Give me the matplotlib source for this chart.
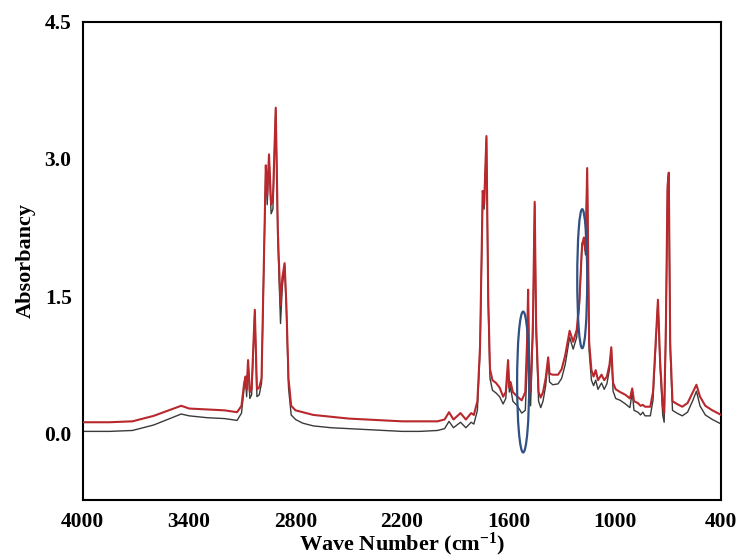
import matplotlib
matplotlib.use("Agg")
import matplotlib.pyplot as plt
from matplotlib.patches import Ellipse

plt.rcParams['font.family'] = ['Liberation Serif', 'DejaVu Serif']
plt.rcParams['font.weight'] = 'bold'
plt.rcParams['mathtext.fontset'] = 'custom'
plt.rcParams['mathtext.rm'] = 'Liberation Serif:bold'
plt.rcParams['mathtext.it'] = 'Liberation Serif:bold'
plt.rcParams['mathtext.bf'] = 'Liberation Serif:bold'

# Wavenumbers (cm-1) and absorbance of the two spectra
wavenumber = [4000, 3850, 3720, 3600, 3445, 3400, 3300, 3200, 3130, 3105,
              3090, 3082, 3076, 3068, 3058, 3048, 3030, 3018, 3005, 2992,
              2968, 2960, 2950, 2938, 2928, 2912, 2900, 2885, 2875, 2862,
              2852, 2840, 2825, 2800, 2760, 2700, 2600, 2500, 2400, 2300,
              2200, 2100, 2000, 1960, 1935, 1910, 1870, 1840, 1810, 1795,
              1775, 1760, 1745, 1737, 1724, 1714, 1704, 1690, 1670, 1650,
              1630, 1615, 1602, 1595, 1588, 1575, 1550, 1525, 1505, 1495,
              1489, 1482, 1475, 1462, 1452, 1444, 1430, 1418, 1405, 1390,
              1376, 1368, 1350, 1320, 1300, 1280, 1255, 1235, 1215, 1200,
              1185, 1175, 1165, 1156, 1145, 1132, 1120, 1108, 1095, 1075,
              1060, 1045, 1030, 1020, 1010, 995, 970, 940, 915, 902,
              892, 870, 855, 842, 830, 800, 785, 770, 757, 745,
              730, 722, 712, 703, 696, 688, 675, 650, 620, 590,
              560, 540, 520, 490, 450, 400]

red = [0.12, 0.12, 0.13, 0.19, 0.30, 0.27, 0.26, 0.25, 0.23, 0.30,
       0.55, 0.62, 0.48, 0.80, 0.45, 0.48, 1.35, 0.48, 0.50, 0.60,
       2.93, 2.60, 3.05, 2.50, 2.55, 3.56, 2.20, 1.40, 1.70, 1.86,
       1.40, 0.60, 0.30, 0.25, 0.23, 0.20, 0.18, 0.16, 0.15, 0.14,
       0.13, 0.13, 0.13, 0.15, 0.23, 0.15, 0.22, 0.15, 0.22, 0.20,
       0.35, 0.95, 2.65, 2.50, 3.25, 1.50, 0.70, 0.58, 0.55, 0.50,
       0.40, 0.45, 0.80, 0.50, 0.56, 0.45, 0.40, 0.36, 0.45, 1.00,
       1.57, 0.60, 0.45, 1.20, 2.53, 1.20, 0.45, 0.39, 0.45, 0.60,
       0.83, 0.65, 0.64, 0.64, 0.70, 0.85, 1.12, 1.00, 1.13, 1.45,
       2.05, 2.14, 2.00, 2.90, 1.00, 0.69, 0.62, 0.69, 0.58, 0.64,
       0.58, 0.62, 0.75, 0.94, 0.55, 0.48, 0.45, 0.42, 0.38, 0.49,
       0.35, 0.33, 0.30, 0.31, 0.29, 0.29, 0.45, 1.00, 1.46, 0.80,
       0.30, 0.22, 1.20, 2.70, 2.85, 1.00, 0.35, 0.32, 0.29, 0.33,
       0.45, 0.53, 0.40, 0.30, 0.25, 0.20]

black = [0.02, 0.02, 0.03, 0.09, 0.21, 0.19, 0.17, 0.16, 0.14, 0.22,
         0.50, 0.58, 0.40, 0.78, 0.38, 0.42, 1.33, 0.40, 0.42, 0.55,
         2.90, 2.50, 3.02, 2.40, 2.45, 3.55, 2.10, 1.20, 1.60, 1.84,
         1.35, 0.50, 0.20, 0.15, 0.11, 0.08, 0.06, 0.05, 0.04, 0.03,
         0.02, 0.02, 0.03, 0.05, 0.13, 0.06, 0.12, 0.06, 0.12, 0.10,
         0.25, 0.90, 2.62, 2.45, 3.23, 1.40, 0.60, 0.47, 0.44, 0.40,
         0.32, 0.38, 0.76, 0.45, 0.50, 0.35, 0.30, 0.22, 0.25, 0.70,
         1.50, 0.45, 0.30, 1.10, 2.50, 1.10, 0.35, 0.28, 0.35, 0.52,
         0.80, 0.56, 0.53, 0.54, 0.60, 0.75, 1.05, 0.92, 1.05, 1.40,
         2.08, 2.10, 1.95, 2.88, 0.90, 0.58, 0.52, 0.58, 0.48, 0.55,
         0.48, 0.54, 0.70, 0.92, 0.46, 0.38, 0.36, 0.32, 0.28, 0.45,
         0.25, 0.23, 0.20, 0.23, 0.19, 0.19, 0.36, 0.95, 1.44, 0.72,
         0.20, 0.12, 1.10, 2.65, 2.83, 0.90, 0.25, 0.22, 0.19, 0.23,
         0.36, 0.46, 0.30, 0.20, 0.15, 0.10]

# Highlighted regions: (center wavenumber, center absorbance, width, height)
highlights = [(1517, 0.56, 68, 1.54), (1184, 1.69, 56, 1.52)]

x_ticks = [4000, 3400, 2800, 2200, 1600, 1000, 400]
y_ticks = [0.0, 1.5, 3.0, 4.5]

fig = plt.figure(figsize=(7.39, 5.58), dpi=100)
ax = fig.add_axes([0.112, 0.104, 0.864, 0.857])

ax.plot(wavenumber, black, color='#3a3a3a', lw=1.0, zorder=2)
ax.plot(wavenumber, red, color='#b8282c', lw=1.5, zorder=3)

for cx, cy, w, h in highlights:
    ax.add_patch(Ellipse((cx, cy), w, h, fill=False, edgecolor='#2f5183',
                         lw=1.6, zorder=4))

ax.set_xlim(4000, 400)
ax.set_ylim(-0.73, 4.5)
ax.set_xticks(x_ticks)
ax.set_xticklabels([str(t) for t in x_ticks])
ax.set_yticks(y_ticks)
ax.set_yticklabels([f"{t:.1f}" for t in y_ticks])
ax.tick_params(axis='x', length=0, labelsize=15.5, pad=9)
ax.tick_params(axis='y', length=0, labelsize=15.5, pad=8)
for lab in ax.get_xticklabels() + ax.get_yticklabels():
    lab.set_fontweight('bold')
for sp in ax.spines.values():
    sp.set_linewidth(1.5)

ax.set_xlabel('Wave Number (cm$^{-1}$)', fontsize=16, fontweight='bold', labelpad=-1)
ax.set_ylabel('Absorbancy', fontsize=16, fontweight='bold', labelpad=6)

fig.savefig('out.png', dpi=100)
